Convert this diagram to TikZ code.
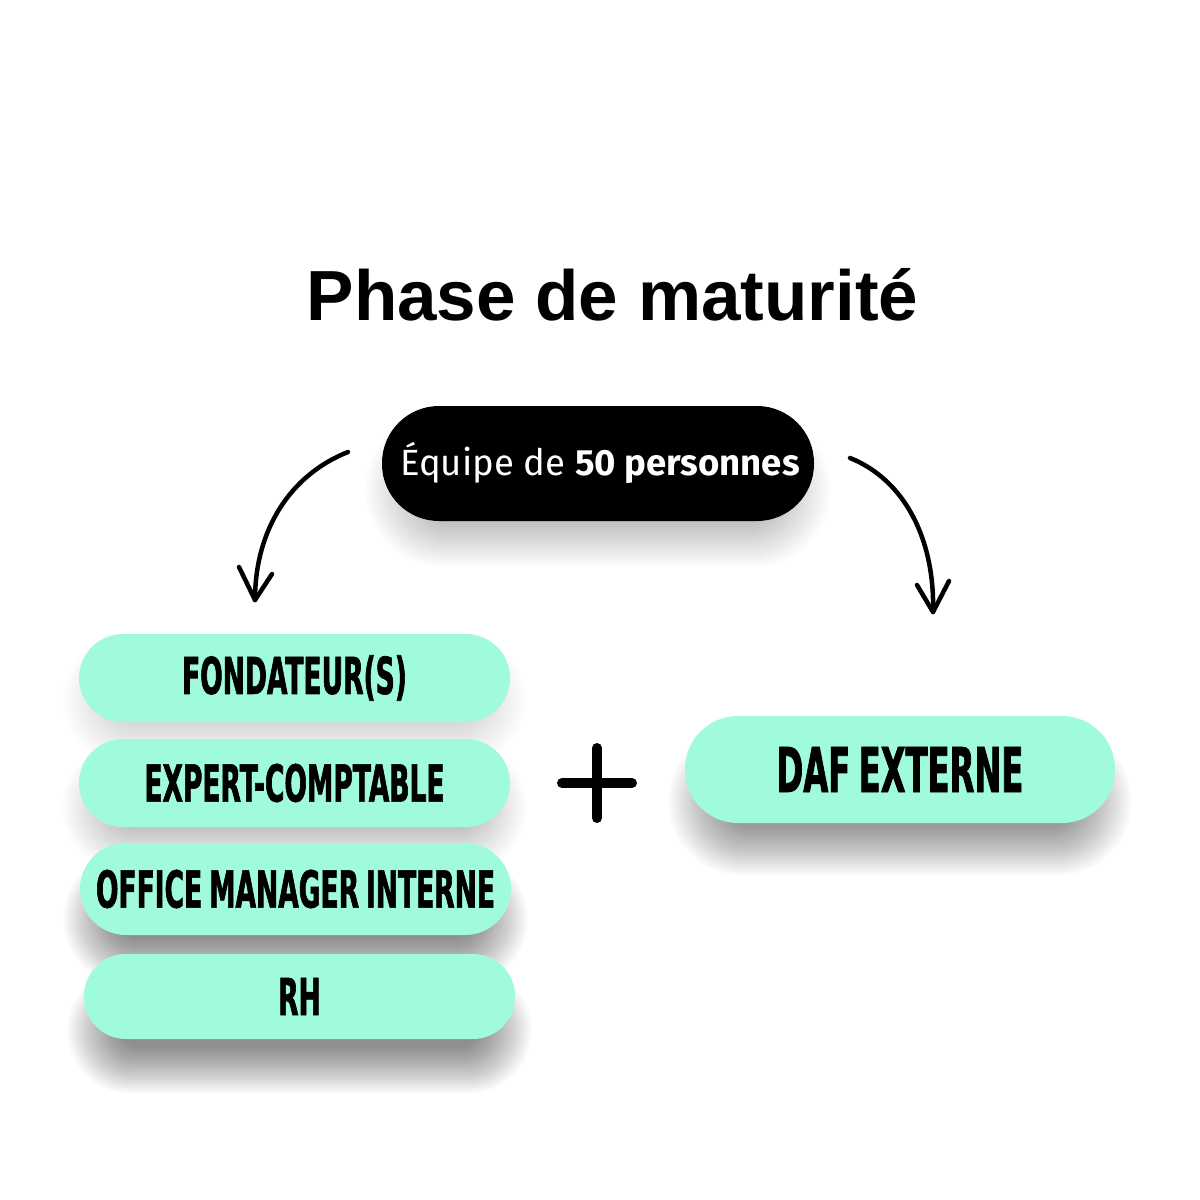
\documentclass[tikz,border=0pt]{standalone}
\usepackage{fontspec}
\newfontfamily\titlef{Liberation Sans}
\newfontfamily\antonf{DejaVu Sans}[FakeStretch=0.52,FakeBold=1.2,WordSpace=0.75]
\newfontfamily\firaf{Fira Sans}
\definecolor{mint}{HTML}{A0FBDE}
% soft shadow: centre x, centre y, width, height, vertical offset, layer opacity
\newcommand{\pillshadow}[6]{%
  \foreach \k in {0,...,21}{%
    \pgfmathsetmacro{\hw}{#3/2-38+2.6*\k}%
    \pgfmathsetmacro{\hh}{#4/2-26+2.2*\k}%
    \fill[black, opacity=#6, rounded corners=\hh pt]
      (#1-\hw,#2+#5-\hh) rectangle (#1+\hw,#2+#5+\hh);
  }}
\tikzset{
  pill/.style={rectangle, fill=mint, minimum width=431pt, minimum height=88pt,
    rounded corners=44pt, inner sep=0pt, text=black,
    font=\antonf\bfseries\fontsize{51pt}{51pt}\selectfont},
  blackpill/.style={rectangle, fill=black, minimum width=432pt, minimum height=115pt,
    rounded corners=57pt, inner sep=0pt},
  curvearrow/.style={line width=4.5pt, line cap=round, line join=round, draw=black},
  plusbar/.style={line width=10pt, line cap=round, draw=black},
}
\begin{document}
\begin{tikzpicture}[x=1pt,y=-1pt]
\useasboundingbox (0,0) rectangle (1200,1200);
\fill[white] (0,0) rectangle (1200,1200);

% shadows
\pillshadow{598}{463.5}{432}{115}{26}{0.012}
\pillshadow{294.5}{678}{431}{88}{22}{0.008}
\pillshadow{294.5}{783}{431}{88}{24}{0.012}
\pillshadow{295.5}{889}{431}{92}{30}{0.022}
\pillshadow{299.5}{996.5}{431}{85}{34}{0.022}
\pillshadow{900}{769.5}{430}{107}{32}{0.02}

% title
\node[anchor=base, inner sep=0pt, font=\titlef\bfseries\fontsize{71pt}{71pt}\selectfont] (title) at (612.5,320) {Phase de maturité};

% black pill
\node[blackpill] (team) at (598,463.5) {};
\node[anchor=base, inner sep=0pt, text=white, font=\firaf\fontsize{36.5pt}{36.5pt}\selectfont] (teamtxt) at (600,475) {Équipe de \textbf{50 personnes}};

% left column pills
\node[pill] (fond) at (294.5,678) {FONDATEUR(S)};
\node[pill] (expert) at (294.5,783) {EXPERT-COMPTABLE};
\node[pill, minimum height=92pt, rounded corners=46pt] (office) at (295.5,889) {OFFICE MANAGER INTERNE};
\node[pill, minimum height=85pt, rounded corners=42pt] (rh) at (299.5,996.5) {RH};

% right pill
\node[pill, minimum width=430pt, minimum height=107pt, rounded corners=53pt,
  font=\antonf\bfseries\fontsize{62pt}{62pt}\selectfont] (daf) at (900,769.5) {DAF EXTERNE};

% plus
\coordinate (pc) at (597,783);
\draw[plusbar] ([xshift=-35pt]pc) -- ([xshift=35pt]pc);
\draw[plusbar] ([yshift=35pt]pc) -- ([yshift=-35pt]pc);

% left arrow
\coordinate (la) at (348,452);
\coordinate (lb) at (255,600);
\draw[curvearrow] (la) .. controls (290,475) and (255,530) .. (lb);
\coordinate (lal) at (239,567);
\coordinate (lar) at (272,574);
\draw[curvearrow] (lal) -- (lb) -- (lar);

% right arrow
\coordinate (ra) at (850,458);
\coordinate (rb) at (933,612);
\draw[curvearrow] (ra) .. controls (905,480) and (935,540) .. (rb);
\coordinate (ral) at (917,585);
\coordinate (rar) at (949,581);
\draw[curvearrow] (ral) -- (rb) -- (rar);
\end{tikzpicture}
\end{document}
